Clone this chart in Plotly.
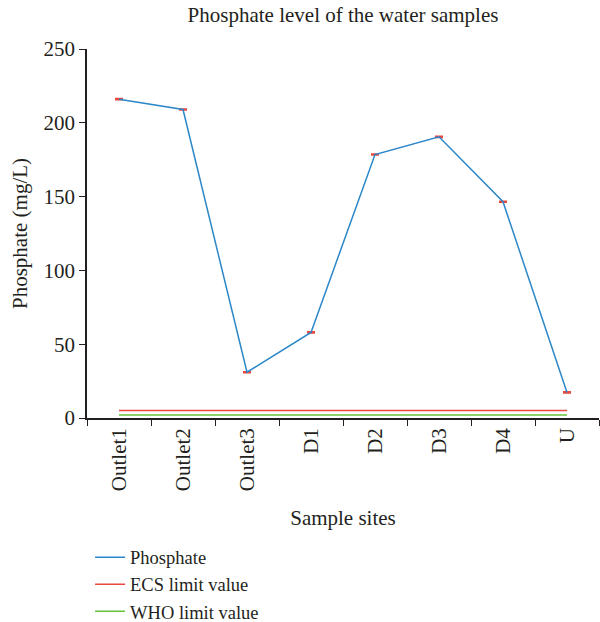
import plotly.graph_objects as go

sites = ["Outlet1", "Outlet2", "Outlet3", "D1", "D2", "D3", "D4", "U"]
phosphate = [216, 209, 31, 58, 178.5, 190.5, 146.5, 17.3]
phosphate_err = [0.4, 0.4, 0.4, 0.4, 0.4, 0.4, 0.4, 0.4]
ecs_limit = [5] * len(sites)
who_limit = [2] * len(sites)

FONT = "Liberation Serif"
FS = 21
BLUE = "#2b87c8"
RED = "#e8493f"
GREEN = "#67c23a"
INK = "#231f20"

fig = go.Figure()
fig.add_trace(go.Scatter(
    x=sites, y=phosphate, mode="lines", name="Phosphate",
    line=dict(color=BLUE, width=1.5),
    error_y=dict(type="data", array=phosphate_err, color=RED, thickness=1.5, width=4),
))
fig.add_trace(go.Scatter(x=sites, y=ecs_limit, mode="lines", name="ECS limit value",
                         line=dict(color=RED, width=1.5)))
fig.add_trace(go.Scatter(x=sites, y=who_limit, mode="lines", name="WHO limit value",
                         line=dict(color=GREEN, width=1.5)))

fig.update_layout(
    width=600, height=622,
    margin=dict(l=87, r=1, t=49, b=204, autoexpand=False),
    paper_bgcolor="white", plot_bgcolor="white",
    font=dict(family=FONT, size=FS, color=INK),
    title=dict(text="Phosphate level of the water samples", x=0.5, xref="paper",
               y=1 - 15 / 622, yanchor="middle", font=dict(family=FONT, size=FS, color=INK)),
    showlegend=True,
    legend=dict(orientation="v", x=0.006, xanchor="left", y=-0.327, yanchor="top",
                font=dict(family=FONT, size=18.5, color=INK), tracegroupgap=0, itemwidth=30,
                borderwidth=0, bgcolor="rgba(0,0,0,0)"),
    xaxis=dict(
        type="category", range=[-0.5, 7.5], tickson="boundaries",
        showline=True, linecolor=INK, linewidth=1.5,
        ticks="outside", ticklen=6, tickcolor=INK,
        tickangle=-90, showgrid=False, zeroline=False,
        title=dict(text="Sample sites", font=dict(family=FONT, size=FS, color=INK), standoff=20),
        tickfont=dict(family=FONT, size=FS, color=INK),
    ),
    yaxis=dict(
        range=[0, 250], tickvals=[0, 50, 100, 150, 200, 250],
        showline=True, linecolor=INK, linewidth=1.5,
        ticks="outside", ticklen=6, tickcolor=INK,
        showgrid=False, zeroline=False,
        title=dict(text="Phosphate (mg/L)", font=dict(family=FONT, size=FS, color=INK), standoff=10),
        tickfont=dict(family=FONT, size=FS, color=INK),
    ),
)

fig.write_html(
    "out.html",
    config={"displayModeBar": False},
    post_script="document.body.style.margin='0';document.body.style.overflow='hidden';"
                "document.documentElement.style.overflow='hidden';",
)
